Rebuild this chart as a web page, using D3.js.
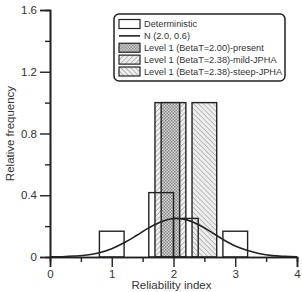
<!DOCTYPE html>
<html>
<head>
<meta charset="utf-8">
<script src="https://cdn.jsdelivr.net/npm/d3@7"></script>
<style>
  body { margin: 0; background: #fff; }
  svg { display: block; font-family: "Liberation Sans", Arial, sans-serif; }
</style>
</head>
<body>
<div id="chart"></div>
<script>
// Data
const detStart = [0.8, 1.6, 2.0, 2.8];
const detEnd = [1.2, 2.0, 2.4, 3.2];
const detFreq = [0.167, 0.417, 0.25, 0.167];

const levelNames = [
  "Level 1 (BetaT=2.00)-present",
  "Level 1 (BetaT=2.38)-mild-JPHA",
  "Level 1 (BetaT=2.38)-steep-JPHA"
];
const levelStart = [1.8, 1.7, 2.3];
const levelEnd = [2.1, 2.2, 2.7];
const levelFreq = [1.0, 1.0, 1.0];

const curveX = [0, 0.2, 0.4, 0.6, 0.8, 1.0, 1.2, 1.4, 1.6, 1.8, 2.0,
  2.2, 2.4, 2.6, 2.8, 3.0, 3.2, 3.4, 3.6, 3.8, 4.0];
const curveY = [0.001, 0.002, 0.006, 0.013, 0.028, 0.054, 0.092, 0.139, 0.189, 0.229, 0.249,
  0.242, 0.211, 0.164, 0.114, 0.071, 0.042, 0.021, 0.009, 0.004, 0.001];

const yTickLabels = [0, 0.4, 0.8, 1.2, 1.6];
const xTickLabels = [0, 1, 2, 3, 4];

const width = 302;
const height = 292;
const margin = { top: 10, right: 5, bottom: 35, left: 50 };
const ink = "#222";
const textCol = "#333";

const svg = d3.select("#chart").append("svg")
  .attr("width", width)
  .attr("height", height);

//Patterns for hatched bars
const defs = svg.append("defs");
const pPresent = defs.append("pattern")
  .attr("id", "pat0").attr("patternUnits", "userSpaceOnUse")
  .attr("width", 3).attr("height", 3);
pPresent.append("rect").attr("width", 3).attr("height", 3).attr("fill", "#d2d2d2");
pPresent.append("rect").attr("width", 1.5).attr("height", 1.5).attr("fill", "#8c8c8c");
pPresent.append("rect").attr("x", 1.5).attr("y", 1.5).attr("width", 1.5).attr("height", 1.5).attr("fill", "#8c8c8c");

function hatch(id, dir) {
  const p = defs.append("pattern")
    .attr("id", id).attr("patternUnits", "userSpaceOnUse")
    .attr("width", 3.5).attr("height", 3.5)
    .attr("patternTransform", `rotate(${dir})`);
  p.append("rect").attr("width", 3.5).attr("height", 3.5).attr("fill", "#eeeeee");
  p.append("line").attr("x1", 0).attr("y1", 0).attr("x2", 0).attr("y2", 3.5)
    .attr("stroke", "#999").attr("stroke-width", 1.2);
}
hatch("pat1", 45);
hatch("pat2", -45);
const levelFills = ["url(#pat0)", "url(#pat1)", "url(#pat2)"];

const x = d3.scaleLinear().domain([0, 4]).range([margin.left, width - margin.right]);
const y = d3.scaleLinear().domain([0, 1.6]).range([height - margin.bottom, margin.top]);

//Deterministic fill (under)
const det = detStart.map((s, i) => ({ s, e: detEnd[i], f: detFreq[i] }));
svg.append("g").selectAll("rect").data(det).join("rect")
  .attr("x", d => x(d.s)).attr("y", d => y(d.f))
  .attr("width", d => x(d.e) - x(d.s)).attr("height", d => y(0) - y(d.f))
  .attr("fill", "#fff");

//Level 1 bars: mild first, then present, then steep
const levels = levelNames.map((n, i) => ({ n, s: levelStart[i], e: levelEnd[i], f: levelFreq[i], fill: levelFills[i] }));
const drawOrder = [levels[1], levels[0], levels[2]];
svg.append("g").selectAll("rect").data(drawOrder).join("rect")
  .attr("x", d => x(d.s)).attr("y", d => y(d.f))
  .attr("width", d => x(d.e) - x(d.s)).attr("height", d => y(0) - y(d.f))
  .attr("fill", d => d.fill)
  .attr("stroke", ink).attr("stroke-width", 1.4);

//Deterministic outlines on top
svg.append("g").selectAll("rect").data(det).join("rect")
  .attr("x", d => x(d.s)).attr("y", d => y(d.f))
  .attr("width", d => x(d.e) - x(d.s)).attr("height", d => y(0) - y(d.f))
  .attr("fill", "none").attr("stroke", ink).attr("stroke-width", 1.4);

//Normal curve
const line = d3.line().x(d => x(d[0])).y(d => y(d[1])).curve(d3.curveCatmullRom);
svg.append("path")
  .datum(curveX.map((v, i) => [v, curveY[i]]))
  .attr("d", line).attr("fill", "none")
  .attr("stroke", ink).attr("stroke-width", 1.6);

//Axes
function styleAxis(g) {
  g.select(".domain").attr("stroke", ink).attr("stroke-width", 1.6);
  g.selectAll(".tick line").attr("stroke", ink).attr("stroke-width", 1.4);
  g.selectAll(".tick text").attr("fill", textCol).attr("font-size", "11.5px")
    .attr("font-family", "Liberation Sans, Arial, sans-serif");
}
const xMinor = d3.range(0.5, 4, 1);
svg.append("g").attr("transform", `translate(0,${y(0)})`)
  .call(d3.axisBottom(x).tickValues(xMinor).tickSize(5).tickFormat(""))
  .call(styleAxis);
svg.append("g").attr("transform", `translate(0,${y(0)})`)
  .call(d3.axisBottom(x).tickValues(xTickLabels).tickSize(10).tickPadding(3).tickFormat(d3.format("d")))
  .call(styleAxis);

const yMinor = [0.2, 0.6, 1.0, 1.4];
svg.append("g").attr("transform", `translate(${x(0)},0)`)
  .call(d3.axisLeft(y).tickValues(yMinor).tickSize(5).tickFormat(""))
  .call(styleAxis);
svg.append("g").attr("transform", `translate(${x(0)},0)`)
  .call(d3.axisLeft(y).tickValues(yTickLabels).tickSize(10).tickPadding(3)
    .tickFormat(d => d === 0 ? "0" : d3.format(".1f")(d)))
  .call(styleAxis);

//Axis titles
svg.append("text")
  .attr("x", x(2) - 2).attr("y", 289)
  .attr("text-anchor", "middle").attr("font-size", "11.5px").attr("fill", textCol)
  .text("Reliability index");
svg.append("text")
  .attr("transform", `translate(14,${y(0.8)}) rotate(-90)`)
  .attr("text-anchor", "middle").attr("font-size", "11.5px").attr("fill", textCol)
  .text("Relative frequency");

//Legend
const legend = svg.append("g").attr("transform", "translate(114,14)");
legend.append("rect")
  .attr("width", 171).attr("height", 67).attr("rx", 5)
  .attr("fill", "#fff").attr("stroke", ink).attr("stroke-width", 1.5);

const legendItems = [
  { label: "Deterministic", kind: "box", fill: "#fff" },
  { label: "N (2.0, 0.6)", kind: "line" },
  ...levels.map(d => ({ label: d.n, kind: "box", fill: d.fill }))
];
const rowY = d3.scalePoint().domain(d3.range(legendItems.length)).range([10, 57.5]);
const rows = legend.selectAll(".legend-item").data(legendItems).join("g")
  .attr("class", "legend-item")
  .attr("transform", (d, i) => `translate(0,${rowY(i)})`);
rows.filter(d => d.kind === "box").append("rect")
  .attr("x", 5).attr("y", -4.5).attr("width", 21).attr("height", 9)
  .attr("fill", d => d.fill).attr("stroke", ink).attr("stroke-width", 1.2);
rows.filter(d => d.kind === "line").append("line")
  .attr("x1", 5).attr("x2", 26).attr("stroke", ink).attr("stroke-width", 1.6);
rows.append("text")
  .attr("x", 30).attr("y", 3.2)
  .attr("font-size", "9.2px").attr("fill", textCol)
  .text(d => d.label);
</script>
</body>
</html>
